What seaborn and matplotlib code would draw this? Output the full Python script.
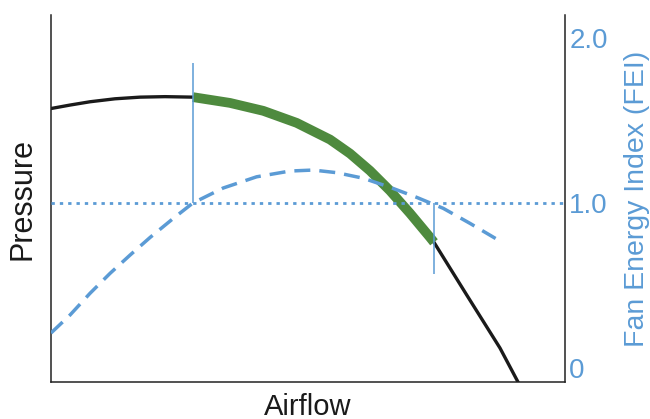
import numpy as np
import pandas as pd
import matplotlib
matplotlib.use('Agg')
import matplotlib.pyplot as plt
import seaborn as sns

# 数据
airflow_pressure = [0, 3.70, 7.59, 12.45, 17.32, 22.18, 27.63, 34.82, 41.30, 47.80, 54.28,
                    58.17, 62.06, 65.95, 69.84, 73.74, 74.51, 80.93, 87.35, 92.2]
pressure = [1.573, 1.594, 1.614, 1.632, 1.642, 1.645, 1.642, 1.607, 1.559, 1.486, 1.385,
            1.300, 1.196, 1.075, 0.938, 0.792, 0.762, 0.440, 0.121, -0.164]

airflow_fei = [0, 3.7, 7.6, 11.5, 15.4, 19.3, 23.8, 27.6, 33.5, 40.0, 46.5, 51.0, 55.6,
               60.8, 66.0, 71.1, 76.3, 81.5, 86.5]
fei = [0.212, 0.321, 0.453, 0.574, 0.685, 0.792, 0.907, 1.0, 1.091, 1.159, 1.194, 1.2, 1.184,
       1.150, 1.095, 1.035, 0.968, 0.877, 0.785]

op_range = [27.63, 74.51]        # FEI >= 1 的运行区间
marker_end = [1.848, 0.57]       # 两条竖线的另一端
fei_ticks = [0, 1.0, 2.0]
fei_tick_labels = ['0', '1.0', '2.0']

blue = '#5b9bd5'
green = '#4e8a3e'

sns.set_style('white')
plt.rcParams['font.family'] = ['Liberation Sans', 'DejaVu Sans']

df_p = pd.DataFrame({'airflow': airflow_pressure, 'pressure': pressure})
df_f = pd.DataFrame({'airflow': airflow_fei, 'fei': fei})
df_g = df_p[(df_p['airflow'] >= op_range[0]) & (df_p['airflow'] <= op_range[1])]

fig = plt.figure(figsize=(6.5, 4.19), dpi=100)
ax = fig.add_axes([51 / 650, 1 - 382 / 419, 514 / 650, 367 / 419])
ax2 = ax.twinx()

ylim = (-0.085, 2.14)
xlim = (0, 100)

# 压力曲线，运行区间用绿色粗线
sns.lineplot(data=df_p, x='airflow', y='pressure', ax=ax, color='#1a1a1a',
             linewidth=2.4, sort=False, estimator=None)
sns.lineplot(data=df_g, x='airflow', y='pressure', ax=ax, color=green,
             linewidth=7, sort=False, estimator=None, solid_capstyle='butt',
             solid_joinstyle='round')

# FEI 曲线
sns.lineplot(data=df_f, x='airflow', y='fei', ax=ax2, color=blue,
             linewidth=2.5, sort=False, estimator=None)
ax2.lines[-1].set_dashes((4.6, 2.6))
ax2.axhline(1.0, color=blue, linewidth=2, linestyle=(0, (1.2, 1.8)))

# 运行区间竖线
ax2.vlines(op_range[0], 1.0, marker_end[0], color=blue, linewidth=1.1)
ax2.vlines(op_range[1], marker_end[1], 1.0, color=blue, linewidth=1.1)

for a in (ax, ax2):
    a.set_xlim(*xlim)
    a.set_ylim(*ylim)

ax.set_xticks([])
ax.set_yticks([])
ax.set_xlabel('Airflow', fontsize=21, labelpad=8, color='#1a1a1a')
ax.set_ylabel('Pressure', fontsize=22, labelpad=10, color='#1a1a1a')

ax2.set_yticks(fei_ticks)
ax2.set_yticklabels(fei_tick_labels)
ax2.tick_params(axis='y', length=0, pad=3, labelsize=20, labelcolor=blue)
ax2.set_ylabel('Fan Energy Index (FEI)', fontsize=20.5, color=blue, labelpad=12)

for a in (ax, ax2):
    a.spines['top'].set_visible(False)
    for s in ('left', 'bottom', 'right'):
        a.spines[s].set_color('#222222')
        a.spines[s].set_linewidth(1.1)
ax.spines['right'].set_visible(False)
ax2.spines['left'].set_visible(False)
ax2.spines['bottom'].set_visible(False)
ax2.spines['right'].set_visible(True)

fig.savefig('out.png', dpi=100)
